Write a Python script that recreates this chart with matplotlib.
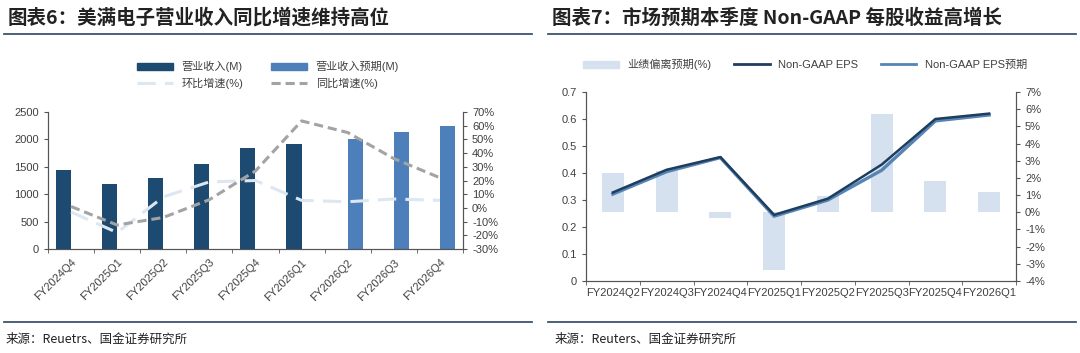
import numpy as np
import matplotlib
matplotlib.use("Agg")
import matplotlib.pyplot as plt
from matplotlib.lines import Line2D
from matplotlib.patches import Patch

plt.rcParams['font.family'] = ['Liberation Sans', 'Noto Sans CJK SC', 'DejaVu Sans']

# chart 6 data
quarters6 = ["FY2024Q4", "FY2025Q1", "FY2025Q2", "FY2025Q3", "FY2025Q4",
             "FY2026Q1", "FY2026Q2", "FY2026Q3", "FY2026Q4"]
revenue = [1440, 1180, 1290, 1545, 1837, 1916, None, None, None]
revenue_est = [None, None, None, None, None, None, 2007, 2129, 2239]
qoq = [-3, -18, 8, 19, 20, 5.5, 4.5, 6.5, 5.5]
yoy = [1, -12.5, -7, 6, 27, 63.5, 55, 36, 22]

# chart 7 data
quarters7 = ["FY2024Q2", "FY2024Q3", "FY2024Q4", "FY2025Q1",
             "FY2025Q2", "FY2025Q3", "FY2025Q4", "FY2026Q1"]
surprise = [2.3, 2.4, -0.33, -3.38, 0.95, 5.7, 1.8, 1.16]
eps = [0.328, 0.412, 0.459, 0.245, 0.305, 0.431, 0.600, 0.620]
eps_est = [0.322, 0.405, 0.457, 0.240, 0.300, 0.410, 0.593, 0.615]

c_dark = "#1d4a70"
c_est = "#4d7fbb"
c_qoq = "#dde7f1"
c_yoy = "#a3a3a3"
c_surp = "#d5e1ee"
c_eps = "#1f3d5c"
c_eps_est = "#5584b5"
c_rule = "#3d5570"
c_txt = "#404040"

W, H = 1080, 353
fig = plt.figure(figsize=(W / 100, H / 100), dpi=100)


def px_axes(x0, y_top, x1, y_bot):
    return fig.add_axes([x0 / W, 1 - y_bot / H, (x1 - x0) / W, (y_bot - y_top) / H])


# titles, rules, sources
fig.text(8 / W, 1 - 18 / H, "图表6：美满电子营业收入同比增速维持高位", fontsize=14,
         fontweight='bold', color="#222222", va='center', family=['Noto Sans CJK SC'])
fig.text(552 / W, 1 - 18 / H, "图表7：市场预期本季度 Non-GAAP 每股收益高增长", fontsize=14,
         fontweight='bold', color="#222222", va='center', family=['Noto Sans CJK SC'])
for xa, xb in [(4, 532), (548, 1076)]:
    fig.add_artist(Line2D([xa / W, xb / W], [1 - 34 / H] * 2, color=c_rule, lw=1.3))
    fig.add_artist(Line2D([xa / W, xb / W], [1 - 322 / H] * 2, color=c_rule, lw=1.3))
fig.text(6 / W, 1 - 339 / H, "来源：Reuetrs、国金证券研究所", fontsize=9, color="#222222",
         va='center', family=['Noto Sans CJK SC'])
fig.text(555 / W, 1 - 339 / H, "来源：Reuters、国金证券研究所", fontsize=9, color="#222222",
         va='center', family=['Noto Sans CJK SC'])

# ---- chart 6
ax = px_axes(48, 112, 463, 249)
x6 = np.arange(len(quarters6))
bw = 0.33
rev_h = [np.nan if v is None else v for v in revenue]
est_h = [np.nan if v is None else v for v in revenue_est]
ax.bar(x6 - bw / 2, rev_h, bw, color=c_dark)
ax.bar(x6 + bw / 2, est_h, bw, color=c_est)
ax.set_xlim(-0.5, len(quarters6) - 0.5)
ax.set_ylim(0, 2500)
ax.set_yticks(np.arange(0, 2501, 500))
ax.set_xticks(x6)
ax.set_xticklabels(quarters6, rotation=45, ha='right', rotation_mode='anchor')
ax.set_xticks(np.arange(-0.5, len(quarters6)), minor=True)
ax.tick_params(axis='x', which='major', length=0, pad=6)
ax.tick_params(axis='x', which='minor', length=3, color="#555555")
ax.tick_params(axis='y', length=3, color="#555555")
ax.tick_params(labelsize=8, labelcolor=c_txt)

ax2 = ax.twinx()
ax2.plot(x6, qoq, color=c_qoq, lw=2.2, dashes=(6, 3))
ax2.plot(x6, yoy, color=c_yoy, lw=2.2, dashes=(3, 1.6))
ax2.set_ylim(-30, 70)
ax2.set_yticks(np.arange(-30, 71, 10))
ax2.set_yticklabels([f"{v}%" for v in range(-30, 71, 10)])
ax2.tick_params(axis='y', length=3, color="#555555", labelsize=8, labelcolor=c_txt)
for a in (ax, ax2):
    a.spines['top'].set_visible(False)
    for s in ('left', 'right', 'bottom'):
        a.spines[s].set_color("#555555")
        a.spines[s].set_linewidth(0.8)

h6 = [Patch(color=c_dark), Line2D([], [], color=c_qoq, lw=2.2, dashes=(6, 3)),
      Patch(color=c_est), Line2D([], [], color=c_yoy, lw=2.2, dashes=(3, 1.6))]
l6 = ["营业收入(M)", "环比增速(%)", "营业收入预期(M)", "同比增速(%)"]
ax.legend(h6, l6, ncol=2, loc='center', bbox_to_anchor=(0.53, 1.27), frameon=False,
          fontsize=8, labelcolor=c_txt, handlelength=3.2, handleheight=0.6,
          columnspacing=2.5, labelspacing=0.5)

# ---- chart 7
bx = px_axes(586, 92, 1016, 281)
x7 = np.arange(len(quarters7))
bx2 = bx.twinx()
bx2.bar(x7, surprise, 0.41, color=c_surp)
bx2.set_ylim(-4, 7)
bx2.set_yticks(np.arange(-4, 8, 1))
bx2.set_yticklabels([f"{v}%" for v in range(-4, 8)])
bx2.tick_params(axis='y', length=3, color="#555555", labelsize=8, labelcolor=c_txt)

bx.set_zorder(bx2.get_zorder() + 1)
bx.patch.set_visible(False)
bx.plot(x7, eps_est, color=c_eps_est, lw=2.4)
bx.plot(x7, eps, color=c_eps, lw=1.8)
bx.set_ylim(0, 0.7)
bx.set_yticks(np.arange(0, 0.71, 0.1))
bx.set_yticklabels(["0"] + [f"{v / 10:.1f}" for v in range(1, 8)])
bx.set_xlim(-0.5, len(quarters7) - 0.5)
bx.set_xticks(x7)
bx.set_xticklabels(quarters7)
bx.set_xticks(np.arange(-0.5, len(quarters7)), minor=True)
bx.tick_params(axis='x', which='major', length=0, pad=5)
bx.tick_params(axis='x', which='minor', length=3, color="#555555")
bx.tick_params(axis='y', length=3, color="#555555")
bx.tick_params(labelsize=8, labelcolor=c_txt)
for a in (bx, bx2):
    a.spines['top'].set_visible(False)
    for s in ('left', 'right', 'bottom'):
        a.spines[s].set_color("#555555")
        a.spines[s].set_linewidth(0.8)

h7 = [Patch(color=c_surp), Line2D([], [], color=c_eps, lw=2),
      Line2D([], [], color=c_eps_est, lw=2)]
l7 = ["业绩偏离预期(%)", "Non-GAAP EPS", "Non-GAAP EPS预期"]
bx.legend(h7, l7, ncol=3, loc='center', bbox_to_anchor=(0.51, 1.145), frameon=False,
          fontsize=8, labelcolor=c_txt, handlelength=3.2, handleheight=0.6,
          columnspacing=2.0)

fig.savefig("out.png", dpi=100)
